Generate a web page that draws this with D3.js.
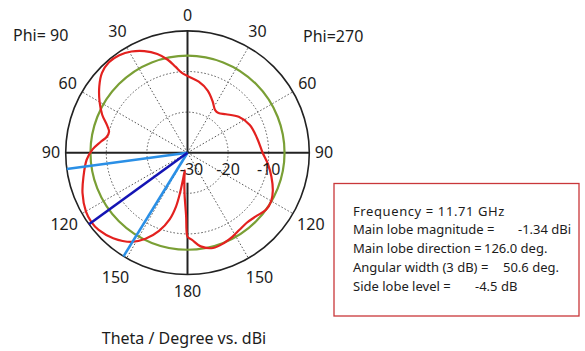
<!DOCTYPE html>
<html>
<head>
<meta charset="utf-8">
<script src="https://cdn.jsdelivr.net/npm/d3@7"></script>
<style>
  body { margin: 0; background: #fff; }
  text { font-family: "Noto Sans", "DejaVu Sans", sans-serif; fill: #1c1c1c; }
</style>
</head>
<body>
<svg class="polar" width="585" height="351"></svg>
<script>
// right half of the plot (Phi=270), theta in degrees, gain in dBi
const thetaPhi270 = [0, 9, 18, 26, 33, 38, 45, 55, 66, 78, 90, 98, 106, 114, 120, 126, 133, 140, 146, 152, 158, 165, 172, 177, 180]
const gainPhi270 = [-11.1, -12.3, -13.9, -15.9, -17.5, -17.6, -16.6, -14.6, -13.2, -12.5, -11.5, -10.0, -8.5, -7.0, -6.2, -6.1, -7.0, -7.4, -7.1, -6.5, -6.0, -5.7, -6.7, -8.5, -9.3]

// left half of the plot (Phi=90)
const thetaPhi90 = [0, 4, 8, 12, 17, 23, 29, 35, 41, 47, 53, 60, 66, 71, 75, 79, 83, 88, 94, 103, 111, 120, 126, 131, 139, 148, 154, 160, 165, 168, 169.5, 170.5, 171.5, 173, 176, 178.8, 179.3, 180]
const gainPhi90 = [-11.1, -10.3, -8.6, -6.6, -4.6, -2.8, -1.5, -0.7, -0.5, -1.2, -2.8, -5.0, -7.0, -9.0, -10.0, -9.7, -8.4, -6.6, -5.1, -3.7, -2.3, -1.1, -0.8, -1.0, -2.1, -4.1, -6.4, -9.5, -13.0, -16.5, -20.0, -23.5, -25.6, -23.8, -19.7, -14.2, -10.8, -9.3]

const refLevel = -6.1
const mainLobeDir = 126.0
const beamEdges = [97.7, 148.3]
const ringValues = [-30, -20, -10]
const angleTicks = [0, 30, 60, 90, 120, 150, 180]
const infoLabels = ['Frequency = 11.71 GHz', 'Main lobe magnitude =', 'Main lobe direction =', 'Angular width (3 dB) =', 'Side lobe level =']
const infoValues = ['', '-1.34 dBi', '126.0 deg.', '50.6 deg.', '-4.5 dB']

const svg = d3.select('.polar')
const cx = 187.5, cy = 152.7, R = 121.8
const rad = d => d * Math.PI / 180

const rscale = d3.scaleLinear().domain([-30, 0]).range([0, R])

const g = svg.append('g').attr('transform', `translate(${cx},${cy})`)

// dotted grid
const gridC = [-20, -10]
g.selectAll('circle.grid').data(gridC).enter().append('circle')
    .attr('class', 'grid')
    .attr('r', d => rscale(d))
    .attr('fill', 'none')
    .attr('stroke', '#555')
    .attr('stroke-width', 1)
    .attr('stroke-dasharray', '1.5,2')

const spokes = [30, 60, 120, 150, 210, 240, 300, 330]
g.selectAll('line.spoke').data(spokes).enter().append('line')
    .attr('class', 'spoke')
    .attr('x1', 0).attr('y1', 0)
    .attr('x2', d => R * Math.sin(rad(d)))
    .attr('y2', d => -R * Math.cos(rad(d)))
    .attr('stroke', '#555')
    .attr('stroke-width', 1)
    .attr('stroke-dasharray', '1.5,2')

// solid axes
g.append('line').attr('x1', -R).attr('x2', R).attr('y1', 0).attr('y2', 0)
    .attr('stroke', '#222').attr('stroke-width', 2)
g.append('line').attr('x1', 0).attr('x2', 0).attr('y1', -R).attr('y2', 0)
    .attr('stroke', '#222').attr('stroke-width', 2)
g.append('line').attr('x1', 0).attr('x2', 0).attr('y1', 30).attr('y2', R)
    .attr('stroke', '#222').attr('stroke-width', 2)

g.append('circle').attr('r', R)
    .attr('fill', 'none').attr('stroke', '#222').attr('stroke-width', 1.6)

g.append('circle').attr('r', rscale(refLevel))
    .attr('fill', 'none').attr('stroke', '#7a9f35').attr('stroke-width', 2.2)

// pattern curve: right half 0 -> 180, then left half back up to 0
const pts = []
thetaPhi270.forEach((t, i) => pts.push({ a: rad(t), v: gainPhi270[i] }))
for (let i = thetaPhi90.length - 2; i > 0; i--) {
    pts.push({ a: rad(360 - thetaPhi90[i]), v: gainPhi90[i] })
}
const line = d3.lineRadial()
    .angle(d => d.a)
    .radius(d => rscale(d.v))
    .curve(d3.curveCatmullRomClosed.alpha(0.5))

g.append('path').datum(pts)
    .attr('d', line)
    .attr('fill', 'none')
    .attr('stroke', '#e3211f')
    .attr('stroke-width', 2.2)

// beam lines
const beams = [
    { t: beamEdges[0], c: '#2a8fe6' },
    { t: beamEdges[1], c: '#2a8fe6' },
    { t: mainLobeDir, c: '#1414b4' }
]
g.selectAll('line.beam').data(beams).enter().append('line')
    .attr('class', 'beam')
    .attr('x1', 0).attr('y1', 0)
    .attr('x2', d => R * Math.sin(rad(360 - d.t)))
    .attr('y2', d => -R * Math.cos(rad(360 - d.t)))
    .attr('stroke', d => d.c)
    .attr('stroke-width', 2.6)

// angle labels on both halves, a bit further out toward the bottom
const labelR = [137.7, 140, 138.4, 136.5, 142.4, 144, 138.3]
const angLabels = []
angleTicks.forEach((t, i) => {
    angLabels.push({ t: t, a: t, r: labelR[i] })
    if (t > 0 && t < 180) angLabels.push({ t: t, a: 360 - t, r: labelR[i] })
})
g.selectAll('text.ang').data(angLabels).enter().append('text')
    .attr('class', 'ang')
    .attr('x', d => d.r * Math.sin(rad(d.a)))
    .attr('y', d => -d.r * Math.cos(rad(d.a)))
    .attr('dy', '0.36em')
    .attr('text-anchor', 'middle')
    .style('font-size', '16px')
    .text(d => d.t)

g.selectAll('text.ring').data(ringValues).enter().append('text')
    .attr('class', 'ring')
    .attr('x', d => rscale(d) + (d == -30 ? 4 : 0))
    .attr('y', 17)
    .attr('dy', '0.36em')
    .attr('text-anchor', 'middle')
    .style('font-size', '16px')
    .text(d => d)

svg.append('text').attr('x', 13).attr('y', 41).style('font-size', '16px').text('Phi= 90')
svg.append('text').attr('x', 303).attr('y', 42).style('font-size', '16px').text('Phi=270')
svg.append('text').attr('x', 184).attr('y', 344).attr('text-anchor', 'middle')
    .style('font-size', '16px').text('Theta / Degree vs. dBi')

// info box
svg.append('rect').attr('x', 334).attr('y', 183.5).attr('width', 245).attr('height', 132.5)
    .attr('fill', '#fff').attr('stroke', '#c9373a').attr('stroke-width', 1.3)

const valX = [0, 518, 484, 503, 475]
const info = svg.append('g')
infoLabels.forEach((t, i) => {
    const y = 215.5 + i * 18.8
    info.append('text').attr('x', 353).attr('y', y).style('font-size', '13px')
        .style('letter-spacing', i == 0 ? '0.6px' : null)
        .text(t)
    if (infoValues[i]) {
        info.append('text').attr('x', valX[i]).attr('y', y).style('font-size', '13px').text(infoValues[i])
    }
})
</script>
</body>
</html>
